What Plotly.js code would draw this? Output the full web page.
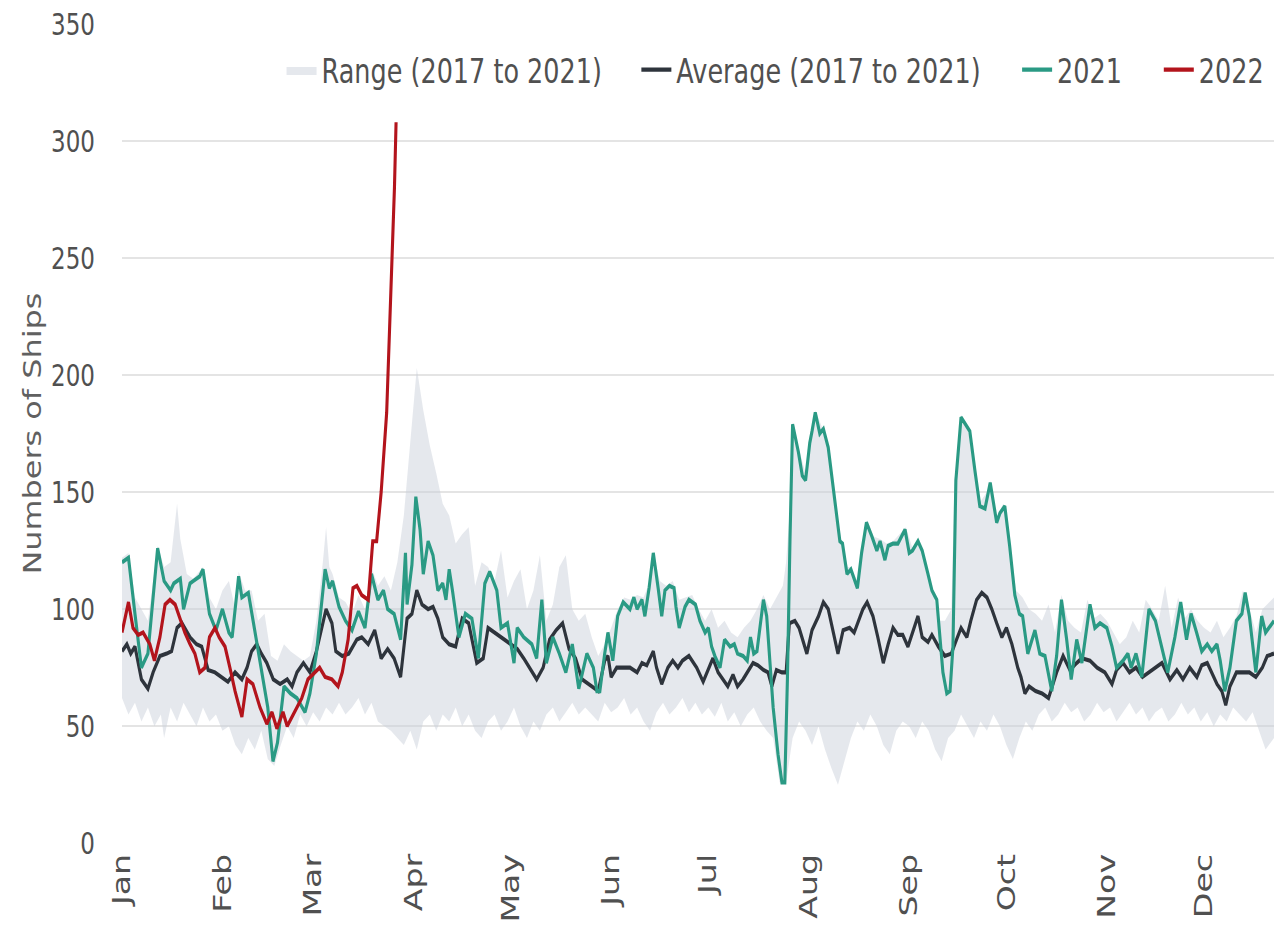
<!DOCTYPE html>
<html>
<head>
<meta charset="utf-8">
<script src="https://cdn.plot.ly/plotly-3.0.1.min.js"></script>
<style>
  html, body { margin: 0; padding: 0; background: #ffffff; overflow: hidden; }
  #wrap { width: 1274px; height: 927px; overflow: hidden; position: relative; }
  #chart { width: 1274px; height: 697px; transform-origin: 0 0; transform: scaleY(1.33); }
</style>
</head>
<body>
<div id="wrap"><div id="chart"></div></div>
<script>
// Month tick positions (day of year) and labels
const monthStartDays = [0, 31, 59, 90, 120, 151, 181, 212, 243, 273, 304, 334];
const monthLabels = ["Jan", "Feb", "Mar", "Apr", "May", "Jun", "Jul", "Aug", "Sep", "Oct", "Nov", "Dec"];
const yTickValues = [0, 50, 100, 150, 200, 250, 300, 350];

// Range (2017 to 2021): upper edge
const rangeUpperDays = [0,2,4,6,8,11,13,15,17,18,20,22,24,25,27,29,31,33,35,36,38,40,42,44,46,48,50,52,54,56,58,60,62,63,64,65,67,69,71,73,75,77,79,81,83,85,87,89,91,93,95,97,99,101,103,105,107,109,111,113,115,117,119,121,123,125,127,129,131,133,135,137,139,141,143,145,147,149,151,153,155,157,159,161,163,164,166,168,170,172,174,176,178,180,182,184,186,188,190,192,194,196,198,200,202,204,205,206,207,209,211,212,214,216,218,220,222,224,225,227,228,230,232,234,236,238,240,242,244,246,248,250,252,254,256,257,259,261,263,265,267,268,270,272,274,276,278,280,282,284,286,288,290,292,294,296,298,300,302,304,306,308,310,312,314,316,318,320,322,324,326,328,330,332,334,336,338,340,342,344,346,348,350,352,355.6];
const rangeUpper = [122,124,105,100,95,127,118,120,145,130,115,113,116,118,105,100,108,112,100,116,108,108,95,98,80,78,85,82,80,78,80,95,120,135,118,115,105,103,98,106,100,118,110,114,108,120,140,170,203,185,170,158,145,140,128,132,135,110,120,118,112,125,105,112,117,100,108,123,95,102,118,123,100,95,98,88,80,85,92,100,105,104,106,105,112,124,112,110,112,104,105,106,100,95,100,92,95,90,88,92,95,100,106,100,105,110,120,140,180,168,158,172,185,178,170,145,130,118,118,112,125,138,131,130,128,129,132,135,126,130,118,110,95,95,100,155,183,178,160,146,150,155,139,145,128,108,105,100,98,95,102,90,106,95,92,90,104,96,98,95,90,85,88,95,90,104,100,95,110,92,105,96,100,95,92,90,95,88,92,97,108,100,90,100,105];

// Range (2017 to 2021): lower edge
const rangeLowerDays = [0,2,4,6,8,10,12,13,15,17,19,21,23,25,27,29,31,33,35,37,39,41,43,45,47,49,51,53,55,57,59,61,63,65,67,69,71,73,75,77,79,81,83,85,87,89,91,93,95,97,99,101,103,105,107,109,111,113,115,117,119,121,123,125,127,129,131,133,135,137,139,141,143,145,147,149,151,153,155,157,159,161,163,165,167,169,171,173,175,177,179,181,183,185,187,189,191,193,195,197,199,201,203,205,207,209,211,213,215,217,219,221,223,225,227,229,231,233,235,237,239,241,243,245,247,249,251,253,255,257,259,261,263,265,267,269,271,273,275,277,279,281,283,285,287,289,291,293,295,297,299,301,303,305,307,309,311,313,315,317,319,321,323,325,327,329,331,333,335,337,339,341,343,345,347,349,351,353,355.6];
const rangeLower = [62,55,60,52,58,50,55,45,58,52,60,55,50,58,52,55,48,50,42,38,45,40,48,36,33,42,50,45,55,50,56,52,58,55,60,55,58,62,55,60,52,50,48,45,42,48,40,52,55,48,55,52,58,50,55,48,45,52,55,48,52,58,50,45,52,48,55,58,52,56,60,55,58,55,52,60,56,58,62,55,58,52,48,56,60,55,58,62,56,60,55,58,54,60,52,56,50,55,58,52,48,45,26,26,45,52,48,42,50,40,32,25,35,45,52,48,55,50,42,38,48,52,50,45,52,48,40,35,45,48,55,50,45,52,48,55,50,42,36,45,52,48,55,58,52,55,60,56,58,52,55,60,56,58,52,56,60,55,58,52,56,58,52,55,60,55,58,52,56,50,55,52,58,55,52,56,48,40,45];

// Average (2017 to 2021)
const avgDays = [0,1.5,2.7,4,6,8,9.6,11.7,13.8,15.3,17,18.5,21,23,24.6,26.6,28.7,30.8,32.7,34.9,37,38.6,40,41.6,43,44.7,46.7,48.8,51,52.5,54,56,58,60,61.7,63,64.8,66,68,70,72.5,74,76,78,80,82,84,86,88,89.5,91,92.6,94.5,96,97.5,99,101,103,105,107,109.5,111.5,113,115,117,120,122,124,126.5,128,130,132,134,136,138,140,142,144,145.5,147,149,150,151,152.7,154.7,156.8,159,160.5,162,164,165,166.6,168.5,170,171.6,173,175,177.4,179.4,181,182.4,184,185.6,187,188.6,190,191.7,193,194.8,196.3,198,199.4,200.6,202,203.7,205,206,207.7,209,211.4,213,215,216.5,218,219.5,221,222.6,224.6,226,227,228.7,230,231.8,233.3,235,236.5,238,239.5,241,242.6,244,245.7,247,248.8,250,252,254,256,257.6,259,260.8,262,263.8,265.4,267,268.5,270,271.6,273,274.7,276.5,277.5,278.7,280,282,284,286,288.5,290.5,292.6,294.7,296.3,298.8,301,303.4,305.6,307,309,311,313,315,317,319,321,323.5,325.6,327.5,329.6,331.8,333.3,335,336.4,338,339.5,340.7,342,344,346,348,350,352,353.5,355.6];
const avgValues = [82,85,81,84,70,66,73,80,81,82,92,94,88,85,84,74,73,71,69,73,70,75,82,85,81,77,70,68,70,67,73,77,73,82,92,100,94,82,80,81,87,88,85,91,79,83,79,71,96,98,108,102,100,101,96,88,85,84,96,94,77,79,92,90,88,85,83,79,73,70,75,87,91,94,83,79,70,68,66,65,78,80,71,75,75,75,73,77,76,82,75,68,75,78,75,78,80,75,69,74,79,73,70,67,72,67,70,73,77,76,74,73,67,74,73,73,94,95,92,81,91,97,103,100,90,81,91,92,90,94,100,103,97,88,77,85,92,89,89,84,90,97,88,86,89,84,80,81,87,92,88,95,104,107,105,100,94,88,92,85,75,71,64,67,65,64,62,73,80,74,77,79,78,75,73,68,74,77,73,75,71,73,75,77,70,74,70,75,71,76,77,73,68,65,59,67,73,73,73,71,75,80,81];

// 2021
const days2021 = [0,2,4,6,8,11,13,15,16,18,19,21,22,24,25,27,29,31,33,34,36,37,39,41,43,45,46.6,48,50,52,54,56.5,58,60,62.7,64,65,67,69,71,73,75,77,79,80.7,82,84,86,87.5,88,89.5,90.7,92,93,94.5,96,97.5,99,100,101,102,104,106,108,110,112,113.5,115.7,117,119,121,122,124,126.5,128,129.6,131,133,135,137,139,141,143.5,145.5,146.6,147.5,149,150,151.5,153,154.7,156.8,158,159,160.5,161.4,162.7,164,165.5,166.6,167.6,169,170.4,171,172,173.8,175,177,178.4,180,181,182,183,184.6,186,187.7,189,190,191.7,193,194,195,196,198,199,200,201,202.5,203.7,204.6,205.4,206.2,207,208.8,210,211,212.3,213,214,215.4,216.5,218,219.5,220.6,221.6,222.4,223.8,225,227,228.3,229.8,231.5,233,234,235.5,236.5,238,239.5,240.6,241.7,243,244,245.7,247,248.8,250,251.5,252.5,253.4,254.6,255.6,256.5,257.4,259,260,261.7,263.3,264.8,266.4,268,270,271,272.5,274,275.6,277,278,279.6,281.8,283.3,284.9,287,288.5,290,291.6,293,294.7,296.3,298.8,300.3,301.9,304,305.6,307,309,310.5,311.5,313,314.8,317,319,321,322.8,325,326.8,328.6,330,331.7,333.3,335,336.4,338,339,340.4,342,344,345.7,346.7,348,350,351.8,353,355.6];
const values2021 = [120,122,98,75,81,126,112,108,111,113,100,111,112,114,117,98,91,100,90,88,114,105,107,91,75,58,35,43,67,64,62,56,64,81,117,109,112,101,95,91,99,92,115,104,108,100,98,87,124,102,119,148,134,115,129,123,108,111,104,117,108,88,98,96,79,111,116,108,92,94,77,92,88,85,79,104,77,88,81,73,85,66,81,75,65,65,81,90,78,97,103,100,105,100,104,97,109,124,109,97,108,110,109,101,92,101,104,102,95,90,92,84,80,75,87,84,85,81,80,78,88,81,82,104,97,78,58,38,26,26,70,130,179,167,157,155,171,176,184,175,177,169,152,141,129,128,115,117,109,124,137,131,125,129,121,127,128,128,131,134,124,125,129,125,115,108,104,87,73,64,65,84,155,182,180,176,159,144,143,154,137,141,144,127,106,98,97,81,91,81,80,65,80,104,87,70,87,77,102,92,94,92,84,75,78,81,75,81,71,100,95,84,73,88,103,87,98,90,82,85,82,85,78,65,75,95,98,107,97,73,97,90,95];

// 2022
const days2022 = [0,2,3.4,5,6.5,8.6,10,11.7,13.3,14.8,16.4,18,19.4,21,22.5,24,25.6,27,28.7,30,31.8,33.3,34.9,37,38.6,40.4,42.6,44.7,46.3,47.8,49.7,51,53.4,55.5,57.4,59.6,61,62.7,64.8,66.7,68,69.8,71.3,72.5,74,76,77.4,78.6,80,81.7,82.7,83.6,84.1,84.6];
const values2022 = [90,103,92,89,90,85,78,88,102,104,102,95,90,85,81,73,75,88,92,88,84,75,65,54,70,68,58,51,56,49,56,50,56,62,70,73,75,71,70,67,73,87,109,110,106,104,129,129,150,184,222,253,280,308];

// Build the range band polygon from the two edges
const bandX = rangeUpperDays.concat(rangeLowerDays.slice().reverse());
const bandY = rangeUpper.concat(rangeLower.slice().reverse());

const FONT = "DejaVu Sans, Verdana, sans-serif";
const TXT = "#505050";

const traces = [
  {
    x: bandX, y: bandY, type: "scatter", mode: "lines",
    fill: "toself", fillcolor: "rgba(200,206,216,0.47)",
    line: { width: 0, color: "rgba(200,206,216,0.47)" },
    name: "Range (2017 to 2021)", hoverinfo: "skip", legend: "legend"
  },
  {
    x: avgDays, y: avgValues, type: "scatter", mode: "lines",
    line: { color: "#2e343c", width: 3.1 },
    name: "Average (2017 to 2021)", legend: "legend2"
  },
  {
    x: days2021, y: values2021, type: "scatter", mode: "lines",
    line: { color: "#2a9a84", width: 3.1 },
    name: "2021", legend: "legend3"
  },
  {
    x: days2022, y: values2022, type: "scatter", mode: "lines",
    line: { color: "#b3141c", width: 3.1 },
    name: "2022", legend: "legend4"
  }
];

const legendBase = {
  orientation: "h", y: 0.9435, yanchor: "middle", xanchor: "left",
  bgcolor: "rgba(0,0,0,0)", font: { family: FONT, size: 25.5, color: TXT },
  itemwidth: 30
};

const layout = {
  width: 1274, height: 697,
  margin: { l: 122, r: 0, t: 18, b: 63, pad: 0 },
  paper_bgcolor: "#ffffff", plot_bgcolor: "#ffffff",
  font: { family: FONT, color: TXT, size: 23 },
  showlegend: true,
  legend: Object.assign({}, legendBase, { x: 0.1385 }),
  legend2: Object.assign({}, legendBase, { x: 0.4465 }),
  legend3: Object.assign({}, legendBase, { x: 0.777 }),
  legend4: Object.assign({}, legendBase, { x: 0.900 }),
  xaxis: {
    range: [0, 355.6], tickmode: "array", tickvals: monthStartDays, ticktext: monthLabels,
    tickangle: -90, showgrid: false, zeroline: false, showline: false, ticks: "",
    ticklabelstandoff: 2,
    tickfont: { family: FONT, size: 25, color: TXT }, fixedrange: true
  },
  yaxis: {
    range: [0, 350], tickmode: "array", tickvals: yTickValues,
    showgrid: true, gridcolor: "#e4e4e4", gridwidth: 1.5, zeroline: false, showline: false,
    ticks: "", ticklabelstandoff: 26,
    tickfont: { family: FONT, size: 23, color: TXT },
    title: { text: "Numbers of Ships", font: { family: FONT, size: 24, color: "#606060" }, standoff: 2 },
    fixedrange: true
  }
};

Plotly.newPlot("chart", traces, layout, { displayModeBar: false, staticPlot: true });
</script>
</body>
</html>
